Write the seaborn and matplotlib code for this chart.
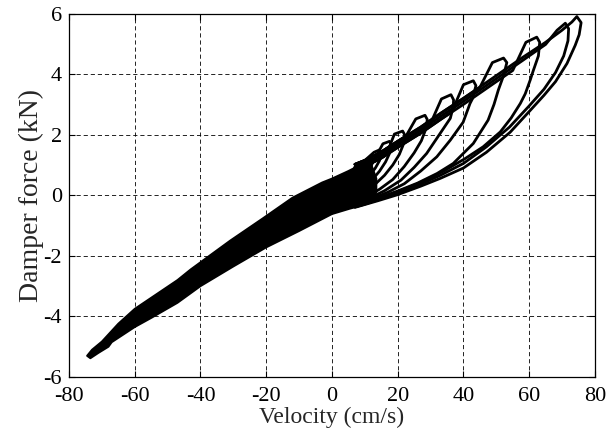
import matplotlib
matplotlib.use("Agg")
import matplotlib.pyplot as plt
import pandas as pd
import seaborn as sns

# negative-velocity band (all loops overlap there), upper and lower edge
band_up_vel = [-74.5, -73, -70, -65, -60, -47, -43, -31, -21, -12, -3, 0, 5, 9, 11.5, 13.5]
band_up_force = [-5.3, -5.1, -4.83, -4.24, -3.75, -2.8, -2.45, -1.5, -0.76, -0.08, 0.42, 0.55, 0.8, 1.02, 1.15, 0.55]
band_lo_vel = [-74.5, -73.5, -71, -68, -67, -60, -55, -47, -40, -30, -20, -10, 0, 5.5, 9, 12, 13.5]
band_lo_force = [-5.3, -5.38, -5.2, -5.0, -4.85, -4.35, -4.05, -3.55, -3.0, -2.35, -1.72, -1.18, -0.62, -0.44, -0.34, -0.24, 0.1]

# positive-velocity loops, largest first (upper branch -> peak -> return branch)
loops_vel = [
    [7, 10, 15, 20, 27, 33, 40, 50, 58, 65, 70, 73, 74.5, 75.8, 75.2, 74, 71.5, 68, 64.5, 60.3, 54.2, 47, 40, 33, 27, 20, 14, 7],
    [7, 10, 15, 20, 27, 33, 40, 50, 58, 65, 68.5, 71, 72, 71.8, 70.5, 68, 64.5, 60, 54, 47, 40, 33, 26, 20, 14, 7],
    [7, 10, 15, 20, 27, 33, 40, 50, 55, 59, 62.3, 63.2, 62.8, 61.2, 60.3, 58.8, 57.3, 54.5, 51.2, 46, 40.5, 34, 27, 20, 14, 7],
    [7, 10, 15, 20, 27, 33, 40, 45, 48.8, 52.2, 53.2, 52.2, 50.6, 49.3, 47.5, 43, 36.9, 32, 26, 20, 14, 7],
    [7, 10, 15, 20, 27, 33, 36.5, 40, 43, 43.8, 42.8, 42, 39.9, 36, 31.9, 27, 22, 17, 12, 7],
    [7, 10, 15, 20, 27, 30, 33.3, 36.2, 37, 36.9, 36, 32.9, 28.8, 25, 21, 16, 11, 7],
    [7, 10, 15, 20, 22.5, 25.5, 28.3, 29, 28.6, 27.2, 25, 22, 18.5, 14.5, 10, 7],
    [7, 10, 15, 16.5, 19, 21.5, 22.2, 21.8, 20.5, 18.5, 16, 13, 10, 7],
    [7, 10, 13, 15.5, 17.5, 18.1, 17.6, 16.3, 14.5, 12, 9.5, 7],
    [7, 10, 12.8, 14.5, 15, 14.5, 13.2, 11.5, 9.5, 7],
    [7, 10.5, 12, 12.5, 11.8, 10.5, 8.5, 7],
    [7, 9.5, 10, 9.3, 8, 6],
]
loops_force = [
    [1.02, 1.15, 1.43, 1.78, 2.25, 2.7, 3.2, 3.95, 4.55, 5.05, 5.45, 5.72, 5.9, 5.7, 5.3, 4.95, 4.35, 3.75, 3.3, 2.8, 2.08, 1.42, 0.9, 0.56, 0.3, 0.02, -0.18, -0.4],
    [0.92, 1.05, 1.33, 1.68, 2.15, 2.6, 3.1, 3.85, 4.45, 4.98, 5.45, 5.68, 5.5, 5.1, 4.6, 4.05, 3.5, 2.95, 2.25, 1.6, 1.05, 0.66, 0.32, 0.08, -0.15, -0.38],
    [0.82, 0.95, 1.23, 1.58, 2.05, 2.5, 3.0, 3.75, 4.12, 5.05, 5.22, 5.05, 4.6, 4.1, 3.8, 3.35, 3.03, 2.55, 2.09, 1.6, 1.21, 0.8, 0.42, 0.12, -0.12, -0.38],
    [1.02, 1.15, 1.43, 1.78, 2.25, 2.7, 3.2, 3.56, 4.38, 4.53, 4.38, 3.95, 3.47, 3.0, 2.48, 1.71, 1.05, 0.72, 0.4, 0.14, -0.1, -0.38],
    [0.82, 0.95, 1.23, 1.58, 2.05, 2.5, 2.76, 3.65, 3.78, 3.62, 3.2, 3.03, 2.41, 1.82, 1.27, 0.8, 0.38, 0.1, -0.12, -0.36],
    [0.92, 1.05, 1.33, 1.68, 2.15, 2.37, 3.18, 3.32, 3.15, 2.92, 2.54, 2.04, 1.38, 0.92, 0.5, 0.15, -0.12, -0.34],
    [1.02, 1.15, 1.43, 1.78, 1.95, 2.52, 2.64, 2.5, 2.2, 1.8, 1.4, 0.95, 0.52, 0.2, -0.08, -0.3],
    [0.82, 0.95, 1.23, 1.33, 2.02, 2.12, 1.98, 1.7, 1.35, 1.0, 0.66, 0.35, 0.08, -0.2],
    [0.92, 1.05, 1.2, 1.7, 1.78, 1.66, 1.4, 1.1, 0.8, 0.48, 0.2, -0.05],
    [1.02, 1.15, 1.42, 1.5, 1.38, 1.15, 0.9, 0.65, 0.4, 0.15],
    [0.92, 1.16, 1.22, 1.12, 0.92, 0.72, 0.5, 0.35],
    [0.92, 1.0, 0.92, 0.78, 0.62, 0.45],
]

x_ticks = [-80, -60, -40, -20, 0, 20, 40, 60, 80]
y_ticks = [-6, -4, -2, 0, 2, 4, 6]

sns.set_theme(style="ticks")
plt.rcParams["font.family"] = ["Liberation Serif", "DejaVu Serif"]
plt.rcParams["axes.unicode_minus"] = False

fig = plt.figure(figsize=(6.08, 4.36), dpi=100)
ax = fig.add_axes([0.1135, 0.1353, 0.865, 0.8337])

# filled band on the negative side
ax.fill(band_up_vel + band_lo_vel[::-1], band_up_force + band_lo_force[::-1],
        facecolor="black", edgecolor="black", lw=1.4, joinstyle="round", zorder=3)

rows = []
for i, (v, f) in enumerate(zip(loops_vel, loops_force)):
    rows.append(pd.DataFrame({"vel": v, "force": f, "loop": i}))
loops = pd.concat(rows, ignore_index=True)

for i, grp in loops.groupby("loop"):
    sns.lineplot(data=grp, x="vel", y="force", sort=False, estimator=None,
                 color="black", lw=2.0, ax=ax, zorder=4,
                 solid_joinstyle="round", solid_capstyle="round")

ax.set_xlim(-80, 80)
ax.set_ylim(-6, 6)
ax.set_xticks(x_ticks)
ax.set_yticks(y_ticks)
ax.grid(True, color="black", linestyle=(0, (5, 3.5)), lw=0.6)
ax.tick_params(direction="in", top=True, right=True, length=4, width=0.8,
               labelsize=16, colors="black")
ax.tick_params(axis="x", pad=7)
ax.tick_params(axis="y", pad=5)
for lbl in ax.get_yticklabels():
    lbl.set_verticalalignment("center_baseline")
for s in ax.spines.values():
    s.set_color("black")
    s.set_linewidth(0.9)
ax.set_xlabel("Velocity (cm/s)", fontsize=17, labelpad=1)
ax.set_ylabel("Damper force (kN)", fontsize=20, labelpad=0)

fig.savefig("out.png", dpi=100)
plt.close(fig)
